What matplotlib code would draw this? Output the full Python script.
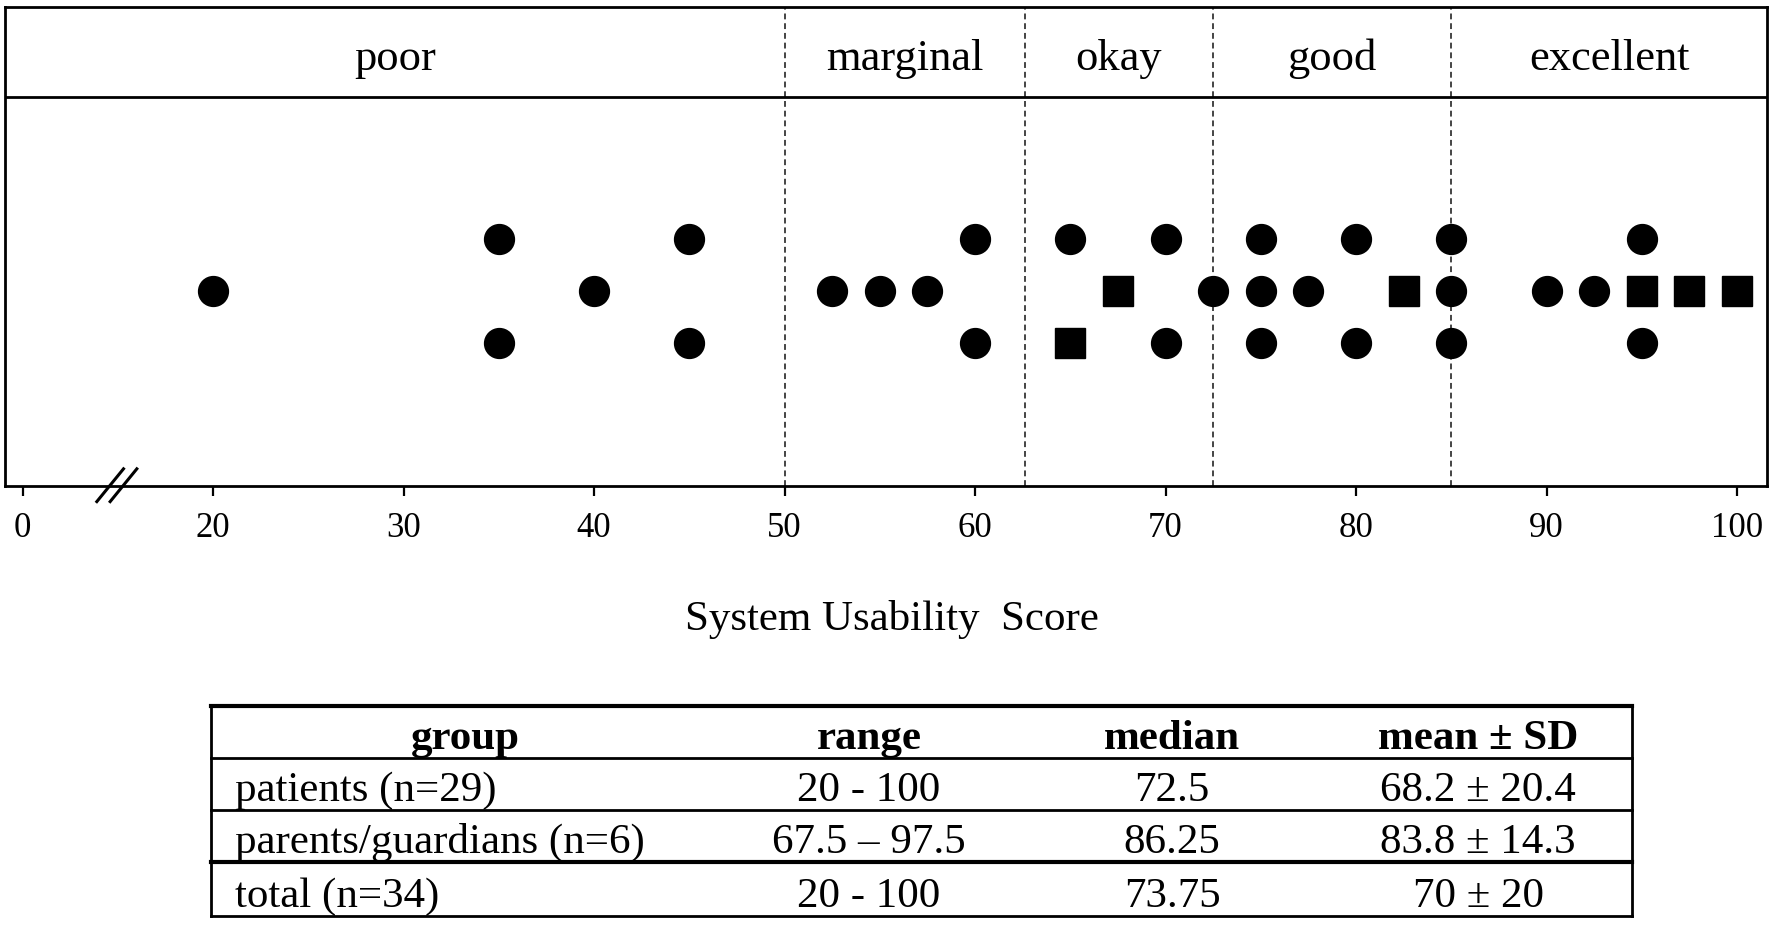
import matplotlib
matplotlib.use("Agg")
import matplotlib.pyplot as plt

plt.rcParams["font.family"] = ["Liberation Serif", "DejaVu Serif"]

# Scores (row: +1 top, 0 middle, -1 bottom)
patient_scores = [35, 45, 60, 65, 70, 75, 80, 85, 95,
                  20, 40, 52.5, 55, 57.5, 72.5, 75, 77.5, 85, 90, 92.5,
                  35, 45, 60, 70, 75, 80, 85, 95]
patient_rows = [1] * 9 + [0] * 11 + [-1] * 8
parent_scores = [67.5, 82.5, 95, 97.5, 100, 65]
parent_rows = [0, 0, 0, 0, 0, -1]

# Adjective bands
band_labels = ["poor", "marginal", "okay", "good", "excellent"]
band_edges = [50, 62.6, 72.5, 85]

# Tick positions (0 is drawn at 10 because of the axis break)
tick_pos = [10, 20, 30, 40, 50, 60, 70, 80, 90, 100]
tick_labels = ["0", "20", "30", "40", "50", "60", "70", "80", "90", "100"]

# Summary table
col_headers = ["group", "range", "median", "mean \u00b1 SD"]
groups = ["patients (n=29)", "parents/guardians (n=6)", "total (n=34)"]
ranges = ["20 - 100", "67.5 \u2013 97.5", "20 - 100"]
medians = ["72.5", "86.25", "73.75"]
means = ["68.2 \u00b1 20.4", "83.8 \u00b1 14.3", "70 \u00b1 20"]

W, H = 1772, 929
fig = plt.figure(figsize=(W / 100, H / 100), dpi=100)

# main dot plot area (pixel box 5..1767 x 8..487)
ax = fig.add_axes([5 / W, (H - 487) / H, (1767 - 5) / W, (487 - 8) / H])
xmin, xmax = 9.08, 101.57
ymin, ymax = -3.75, 5.46
ax.set_xlim(xmin, xmax)
ax.set_ylim(ymin, ymax)

for sp in ax.spines.values():
    sp.set_linewidth(2.0)

# dashed band separators and header line
for e in band_edges:
    ax.axvline(e, color="#444444", lw=1.4, linestyle=(0, (3, 2)), zorder=1)
ax.axhline(3.73, color="black", lw=2.0, zorder=2)

# band labels
bounds = [xmin] + band_edges + [xmax]
for i, lab in enumerate(band_labels):
    ax.text((bounds[i] + bounds[i + 1]) / 2, 4.27, lab, ha="center",
            va="baseline", fontsize=32)

ax.plot(patient_scores, patient_rows, "o", color="black", ms=21.5,
        linestyle="none", zorder=3)
ax.plot(parent_scores, parent_rows, "s", color="black", ms=21,
        linestyle="none", zorder=3)

ax.set_xticks(tick_pos)
ax.set_xticklabels(tick_labels)
ax.set_yticks([])
ax.tick_params(axis="x", direction="out", length=7, width=1.6,
               labelsize=25, pad=11)

# axis break marks
for bx in [14.6, 15.3]:
    ax.plot([bx - 0.7, bx + 0.7], [ymin - 0.3, ymin + 0.33],
            color="black", lw=2.2, clip_on=False, zorder=4)

fig.text(892 / W, (H - 630) / H, "System Usability  Score", ha="center",
         va="baseline", fontsize=31)

# table drawn in pixel coordinates
tx0, tx1, ty0, ty1 = 211, 1632, 707, 917
tab = fig.add_axes([tx0 / W, (H - ty1) / H, (tx1 - tx0) / W, (ty1 - ty0) / H])
tab.set_xlim(tx0, tx1)
tab.set_ylim(ty1, ty0)
tab.axis("off")

row_lines = [707, 759, 811, 863, 917]
row_lw = [3.0, 2.0, 2.0, 3.0, 2.0]
for y, lw in zip(row_lines, row_lw):
    tab.plot([tx0, tx1], [y, y], color="black", lw=lw, clip_on=False,
             solid_capstyle="projecting")
for x in [tx0, tx1]:
    tab.plot([x, x], [ty0, ty1], color="black", lw=2.0, clip_on=False)

col_centers = [465, 869, 1172, 1478]
for xc, h in zip(col_centers, col_headers):
    tab.text(xc, 749, h, ha="center", va="baseline", fontsize=31,
             fontweight="bold")

baselines = [801, 853, 907]
for i in range(len(groups)):
    yb = baselines[i]
    tab.text(235, yb, groups[i], ha="left", va="baseline", fontsize=31)
    tab.text(col_centers[1], yb, ranges[i], ha="center", va="baseline",
             fontsize=31)
    tab.text(col_centers[2], yb, medians[i], ha="center", va="baseline",
             fontsize=31)
    tab.text(col_centers[3], yb, means[i], ha="center", va="baseline",
             fontsize=31)

fig.savefig("out.png", dpi=100)
